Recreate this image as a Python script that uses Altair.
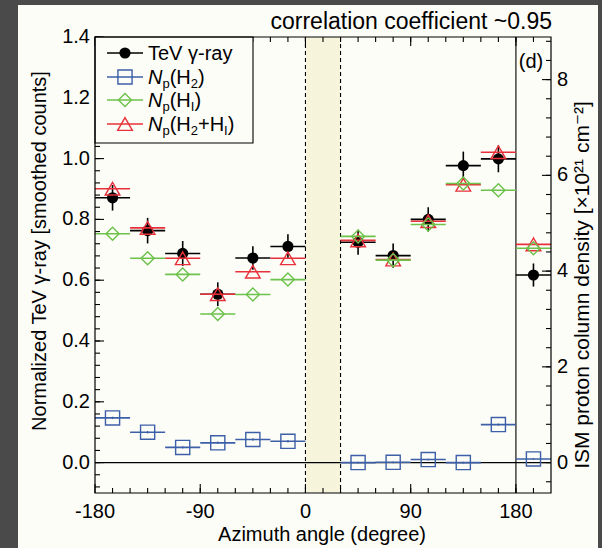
import altair as alt
import pandas as pd

# ---- data -------------------------------------------------------------
# azimuth bin centres (degree); every bin spans +/- 15 degree
azimuth = [-165, -135, -105, -75, -45, -15, 45, 75, 105, 135, 165, 195]
bin_half = 15

# normalised TeV gamma-ray counts and their 1-sigma errors
tev = [0.871, 0.763, 0.688, 0.554, 0.673, 0.711, 0.725, 0.681, 0.800, 0.977, 0.999, 0.617]
tev_err = [0.042, 0.042, 0.041, 0.039, 0.039, 0.040, 0.041, 0.040, 0.040, 0.046, 0.044, 0.038]

# proton column densities (same normalisation as the gamma-ray counts)
np_h2 = [0.147, 0.100, 0.050, 0.065, 0.076, 0.070, 0.000, 0.001, 0.010, 0.000, 0.125, 0.012]
np_h2_err = [0.004, 0.004, 0.004, 0.004, 0.004, 0.004, 0.003, 0.003, 0.003, 0.003, 0.004, 0.003]
np_hi = [0.753, 0.672, 0.619, 0.489, 0.553, 0.602, 0.744, 0.666, 0.783, 0.918, 0.896, 0.705]
np_h2hi = [0.901, 0.772, 0.672, 0.554, 0.628, 0.672, 0.731, 0.668, 0.794, 0.914, 1.021, 0.718]

# excluded azimuth range (shaded) and the 180 degree wrap line
masked = [0, 30]
wrap_at = 180

# axes
x_domain = [-180, 210]
x_labels = [-180, -90, 0, 90, 180]
x_minor = list(range(-165, 210, 15))
y_domain = [-0.1, 1.4]
y_labels = [0.0, 0.2, 0.4, 0.6, 0.8, 1.0, 1.2, 1.4]
y_minor = [round(-0.08 + 0.04 * i, 2) for i in range(38)]
density_per_unit = 6.35          # right-hand axis (10^21 cm^-2) per normalised unit
r_labels = [0, 2, 4, 6, 8]
r_minor = [round(-0.4 + 0.4 * i, 1) for i in range(24)]

x_title = "Azimuth angle (degree)"
y_title = "Normalized TeV γ-ray [smoothed counts]"
r_title = "ISM proton column density [×10²¹ cm⁻²]"

# ---- style ------------------------------------------------------------
W, H = 456, 456
FONT = "Liberation Sans, Arial, Helvetica, DejaVu Sans"
BLACK = "#000000"
BLUE = "#3d5fa8"
GREEN = "#6cc24a"
RED = "#e8303a"
PANEL = "#fdfdf8"
BAND = "#f7f4dc"
OUTER = "#4a4a4a"
MAJOR, MINOR = 9, 5
FS = 20

xs = alt.Scale(domain=x_domain, nice=False, zero=False)
ys = alt.Scale(domain=y_domain, nice=False, zero=False)
rs = alt.Scale(domain=[y_domain[0] * density_per_unit, y_domain[1] * density_per_unit],
               nice=False, zero=False)

df = pd.DataFrame({
    "az": azimuth,
    "lo": [a - bin_half for a in azimuth],
    "hi": [a + bin_half for a in azimuth],
    "tev": tev,
    "tev_lo": [v - e for v, e in zip(tev, tev_err)],
    "tev_hi": [v + e for v, e in zip(tev, tev_err)],
    "h2": np_h2,
    "h2_lo": [v - e for v, e in zip(np_h2, np_h2_err)],
    "h2_hi": [v + e for v, e in zip(np_h2, np_h2_err)],
    "hi_": np_hi,
    "h2hi": np_h2hi,
})
one = pd.DataFrame({"z": [0]})


def X(field):
    return alt.X(field, type="quantitative", scale=xs, axis=None)


def Y(field):
    return alt.Y(field, type="quantitative", scale=ys, axis=None)


def label(text, x, y, size=FS, align="center", angle=0):
    return alt.Chart(one).mark_text(font=FONT, fontSize=size, align=align, baseline="middle",
                                    color=BLACK, angle=angle).encode(
        x=alt.value(x), y=alt.value(y), text=alt.value(text))


layers = []

# dark page margin strips (left, top, right)
strips = [(-95, -77, -37, 511), (-95, 507, -37, -32), (503, 507, -37, 511)]
for x0, x1, y0, y1 in strips:
    layers.append(alt.Chart(one).mark_rect(color=OUTER).encode(
        x=alt.value(x0), x2=alt.value(x1), y=alt.value(y0), y2=alt.value(y1)))

# excluded azimuth band and its dashed edges
band_df = pd.DataFrame({"x0": [masked[0]], "x1": [masked[1]]})
layers.append(alt.Chart(band_df).mark_rect(color=BAND).encode(
    x=X("x0"), x2="x1", y=alt.value(0), y2=alt.value(H)))
layers.append(alt.Chart(pd.DataFrame({"v": masked})).mark_rule(
    color=BLACK, strokeWidth=1.1, strokeDash=[4, 3]).encode(
    x=X("v"), y=alt.value(0), y2=alt.value(H)))
layers.append(alt.Chart(pd.DataFrame({"v": [wrap_at]})).mark_rule(
    color=BLACK, strokeWidth=1.1).encode(x=X("v"), y=alt.value(0), y2=alt.value(H)))
layers.append(alt.Chart(pd.DataFrame({"v": [0.0]})).mark_rule(
    color=BLACK, strokeWidth=1.2).encode(y=Y("v"), x=alt.value(0), x2=alt.value(W)))

# inward tick marks
xmaj = pd.DataFrame({"v": x_labels, "lab": [str(v) for v in x_labels]})
xmin = pd.DataFrame({"v": x_minor})
ymaj = pd.DataFrame({"v": y_labels, "lab": [f"{v:.1f}" for v in y_labels]})
ymin = pd.DataFrame({"v": y_minor})
tick = dict(color=BLACK, strokeWidth=1.1)
layers.append(alt.Chart(xmaj).mark_rule(**tick).encode(
    x=X("v"), y=alt.value(H), y2=alt.value(H - MAJOR)))
layers.append(alt.Chart(xmin).mark_rule(**tick).encode(
    x=X("v"), y=alt.value(H), y2=alt.value(H - MINOR)))
layers.append(alt.Chart(xmaj).mark_rule(**tick).encode(
    x=X("v"), y=alt.value(0), y2=alt.value(MAJOR)))
layers.append(alt.Chart(xmin).mark_rule(**tick).encode(
    x=X("v"), y=alt.value(0), y2=alt.value(MINOR)))
layers.append(alt.Chart(ymaj).mark_rule(**tick).encode(
    y=Y("v"), x=alt.value(0), x2=alt.value(MAJOR)))
layers.append(alt.Chart(ymin).mark_rule(**tick).encode(
    y=Y("v"), x=alt.value(0), x2=alt.value(MINOR)))

# tick labels and axis titles
layers.append(alt.Chart(xmaj).mark_text(font=FONT, fontSize=FS, align="center",
                                        baseline="middle", color=BLACK).encode(
    x=X("v"), y=alt.value(H + 19), text="lab:N"))
layers.append(alt.Chart(ymaj).mark_text(font=FONT, fontSize=FS, align="right",
                                        baseline="middle", color=BLACK).encode(
    y=Y("v"), x=alt.value(-5), text="lab:N"))
layers.append(label(x_title, 227, H + 42))
layers.append(label(y_title, -55, 214, angle=270))

# ---- series -------------------------------------------------------------
base = alt.Chart(df)
bar = dict(strokeWidth=1.6)

# TeV gamma rays
layers.append(base.mark_rule(color=BLACK, **bar).encode(x=X("lo"), x2="hi", y=Y("tev")))
layers.append(base.mark_rule(color=BLACK, **bar).encode(x=X("az"), y=Y("tev_lo"), y2="tev_hi"))
layers.append(base.mark_point(shape="circle", filled=True, color=BLACK, size=125, opacity=1)
              .encode(x=X("az"), y=Y("tev")))

# Np(H2)
layers.append(base.mark_rule(color=BLUE, **bar).encode(x=X("lo"), x2="hi", y=Y("h2")))
layers.append(base.mark_rule(color=BLUE, strokeWidth=1.2).encode(
    x=X("az"), y=Y("h2_lo"), y2="h2_hi"))
layers.append(base.mark_point(shape="square", filled=False, color=BLUE, size=200,
                              strokeWidth=1.4, opacity=1).encode(x=X("az"), y=Y("h2")))

# Np(H2+HI)
layers.append(base.mark_rule(color=RED, **bar).encode(x=X("lo"), x2="hi", y=Y("h2hi")))
layers.append(base.mark_point(shape="triangle-up", filled=False, color=RED, size=215,
                              strokeWidth=1.4, opacity=1).encode(x=X("az"), y=Y("h2hi")))

# Np(HI)
layers.append(base.mark_rule(color=GREEN, **bar).encode(x=X("lo"), x2="hi", y=Y("hi_")))
layers.append(base.mark_point(shape="diamond", filled=False, color=GREEN, size=170,
                              strokeWidth=1.4, opacity=1).encode(x=X("az"), y=Y("hi_")))

# ---- legend -------------------------------------------------------------
layers.append(alt.Chart(one).mark_rect(fill=PANEL, stroke=BLACK, strokeWidth=1.1).encode(
    x=alt.value(0), x2=alt.value(158), y=alt.value(0), y2=alt.value(106)))

legend_rows = [16, 40, 63, 87]
legend_sym = [("circle", BLACK, True, 125), ("square", BLUE, False, 200),
              ("diamond", GREEN, False, 170), ("triangle-up", RED, False, 215)]
for ry, (shape, col, fill, size) in zip(legend_rows, legend_sym):
    layers.append(alt.Chart(one).mark_rule(color=col, strokeWidth=1.6).encode(
        x=alt.value(12), x2=alt.value(48), y=alt.value(ry)))
    layers.append(alt.Chart(one).mark_point(shape=shape, filled=fill, color=col, size=size,
                                            strokeWidth=1.4, opacity=1).encode(
        x=alt.value(30), y=alt.value(ry)))

em = {"N": 0.722, "p": 0.556, "(": 0.333, ")": 0.333, "H": 0.722, "2": 0.556,
      "I": 0.278, "+": 0.584}
legend_text = [
    [("TeV γ-ray", "main")],
    [("N", "ital"), ("p", "sub"), ("(H", "main"), ("2", "sub"), (")", "main")],
    [("N", "ital"), ("p", "sub"), ("(H", "main"), ("I", "sub"), (")", "main")],
    [("N", "ital"), ("p", "sub"), ("(H", "main"), ("2", "sub"), ("+H", "main"),
     ("I", "sub"), (")", "main")],
]
for ry, parts in zip(legend_rows, legend_text):
    cx = 53
    for txt, kind in parts:
        fs = 13 if kind == "sub" else FS
        dy = 11 if kind == "sub" else 7
        layers.append(alt.Chart(one).mark_text(
            font=FONT, fontSize=fs, align="left", baseline="alphabetic", color=BLACK,
            fontStyle="italic" if kind == "ital" else "normal").encode(
            x=alt.value(cx), y=alt.value(ry + dy), text=alt.value(txt)))
        cx += sum(em.get(c, 0.55) for c in txt) * fs

# plot frame
layers.append(alt.Chart(one).mark_rect(filled=False, stroke=BLACK, strokeWidth=1.2).encode(
    x=alt.value(0), x2=alt.value(W), y=alt.value(0), y2=alt.value(H)))

# annotations
layers.append(label("correlation coefficient ~0.95", 457, -15, size=23, align="right"))
layers.append(label("(d)", 436, 25))

left = alt.layer(*layers)

# right-hand column-density axis: inward ticks, labels and title
rmaj = pd.DataFrame({"v": r_labels, "lab": [str(v) for v in r_labels]})
rmin = pd.DataFrame({"v": r_minor})
RY = alt.Y("v:Q", scale=rs, axis=None)
right = alt.layer(
    alt.Chart(rmaj).mark_rule(**tick).encode(y=RY, x=alt.value(W), x2=alt.value(W - MAJOR)),
    alt.Chart(rmin).mark_rule(**tick).encode(y=RY, x=alt.value(W), x2=alt.value(W - MINOR)),
    alt.Chart(rmaj).mark_text(font=FONT, fontSize=FS, align="left", baseline="middle",
                              color=BLACK).encode(y=RY, x=alt.value(W + 6), text="lab:N"),
    label(r_title, W + 32, 248, size=21, angle=270),
)

chart = alt.layer(left, right).resolve_scale(y="independent").properties(
    width=W, height=H,
    autosize=alt.AutoSizeParams(type="none"),
    padding={"left": 95, "top": 37, "right": 51, "bottom": 55},
).configure(background=PANEL).configure_view(stroke=None)

chart.save("out.html", embed_options={"renderer": "svg", "actions": False})
